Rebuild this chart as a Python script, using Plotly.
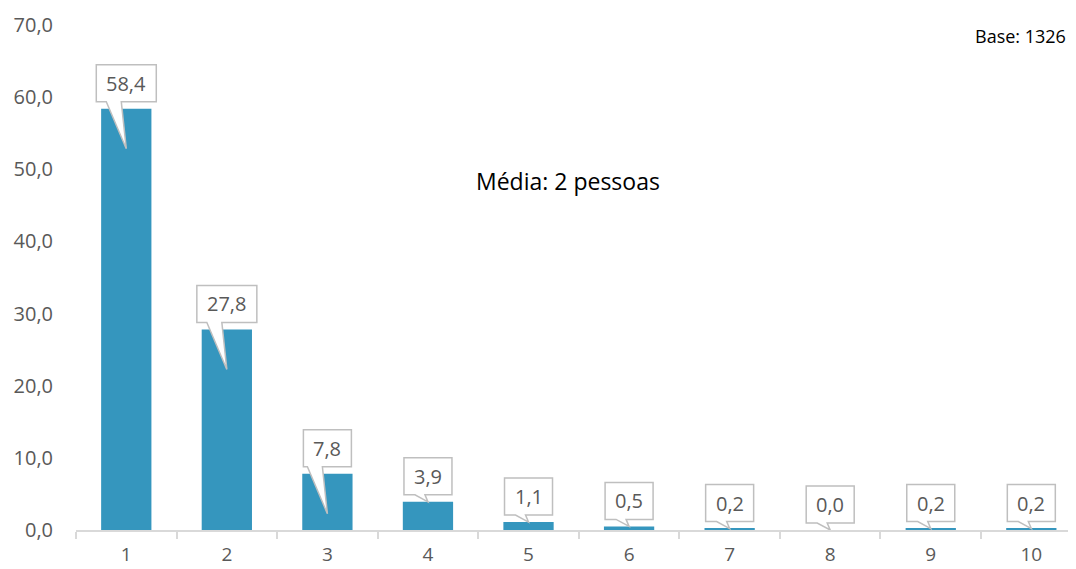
import plotly.graph_objects as go

categorias = ['1', '2', '3', '4', '5', '6', '7', '8', '9', '10']
valores = [58.4, 27.8, 7.8, 3.9, 1.1, 0.5, 0.2, 0.0, 0.2, 0.2]
yticks = [0, 10, 20, 30, 40, 50, 60, 70]

# a página tem margem de 8px no body
OFF = 8
W, H = 1076 - OFF, 569 - OFF
ml, mr, mt, mb = 76 - OFF, 0, 25 - OFF, 39
x_range = [0.5, 0.5 + (W - ml - mr) / 100.56]
y_range = [0, 70]
px_x = (W - ml - mr) / (x_range[1] - x_range[0])
px_y = (H - mt - mb) / (y_range[1] - y_range[0])

def rotulo(v):
    return f'{v:.1f}'.replace('.', ',')

def paper(xp, yp):
    return ((xp - OFF - ml) / (W - ml - mr), 1 - (yp - OFF - mt) / (H - mt - mb))

xs = list(range(1, len(categorias) + 1))

fig = go.Figure()
fig.add_trace(go.Bar(x=xs, y=valores, width=0.5, marker_color='#3596BE',
                     marker_line_width=0, hoverinfo='skip'))

# callouts estilo Excel
shapes = []
for x, v in zip(xs, valores):
    txt = rotulo(v)
    wpx = 12 * len(txt) + 12
    hpx = 37
    bar_h = v * px_y
    bottom = v + 7 / px_y
    top = bottom + hpx / px_y
    left = x - wpx / 2 / px_x
    right = x + wpx / 2 / px_x
    if bar_h > 45:
        tip_y = v - 40 / px_y
        bl, br = x - 20 / px_x, x - 5 / px_x
    else:
        tip_y = v
        bl, br = x - 13 / px_x, x - 3 / px_x
    path = (f'M {left},{bottom} L {bl},{bottom} L {x},{tip_y} L {br},{bottom} '
            f'L {right},{bottom} L {right},{top} L {left},{top} Z')
    shapes.append(dict(type='path', path=path, xref='x', yref='y',
                       fillcolor='white', line=dict(color='#BFBFBF', width=1.5),
                       layer='above'))
    fig.add_annotation(x=x, y=(bottom + top) / 2, xref='x', yref='y', text=txt,
                       showarrow=False, font=dict(size=20, color='#595959'))

mx, my = paper(568, 181)
fig.add_annotation(x=mx, y=my, xref='paper', yref='paper', text='Média: 2 pessoas',
                   showarrow=False, xanchor='center', yanchor='middle',
                   font=dict(size=23, color='#000000'))
bx, by = paper(1068, 36)
fig.add_annotation(x=bx, y=by, xref='paper', yref='paper', text='Base: 1326',
                   showarrow=False, xanchor='right', yanchor='middle',
                   font=dict(size=18, color='#000000'))

fig.update_layout(
    width=W, height=H,
    margin=dict(l=ml, r=mr, t=mt, b=mb),
    plot_bgcolor='white', paper_bgcolor='white',
    showlegend=False,
    shapes=shapes,
    font=dict(family='Open Sans, Lato, sans-serif', color='#595959', size=20),
    xaxis=dict(range=x_range, tickvals=xs, ticktext=categorias, ticks='',
               showgrid=False, zeroline=False, showline=True, linecolor='#D9D9D9',
               linewidth=1.5, ticklabelstandoff=6, automargin=False,
               minor=dict(tickvals=[i + 0.5 for i in range(0, 11)], ticks='outside',
                          ticklen=7, tickcolor='#D9D9D9', tickwidth=1.5, showgrid=False),
               tickfont=dict(size=19, color='#595959')),
    yaxis=dict(range=y_range, tickvals=yticks, ticktext=[rotulo(t) for t in yticks],
               showgrid=False, zeroline=False, showline=False, ticks='',
               ticklabelstandoff=22, automargin=False,
               tickfont=dict(size=20, color='#595959')),
)

fig.write_html('out.html')
